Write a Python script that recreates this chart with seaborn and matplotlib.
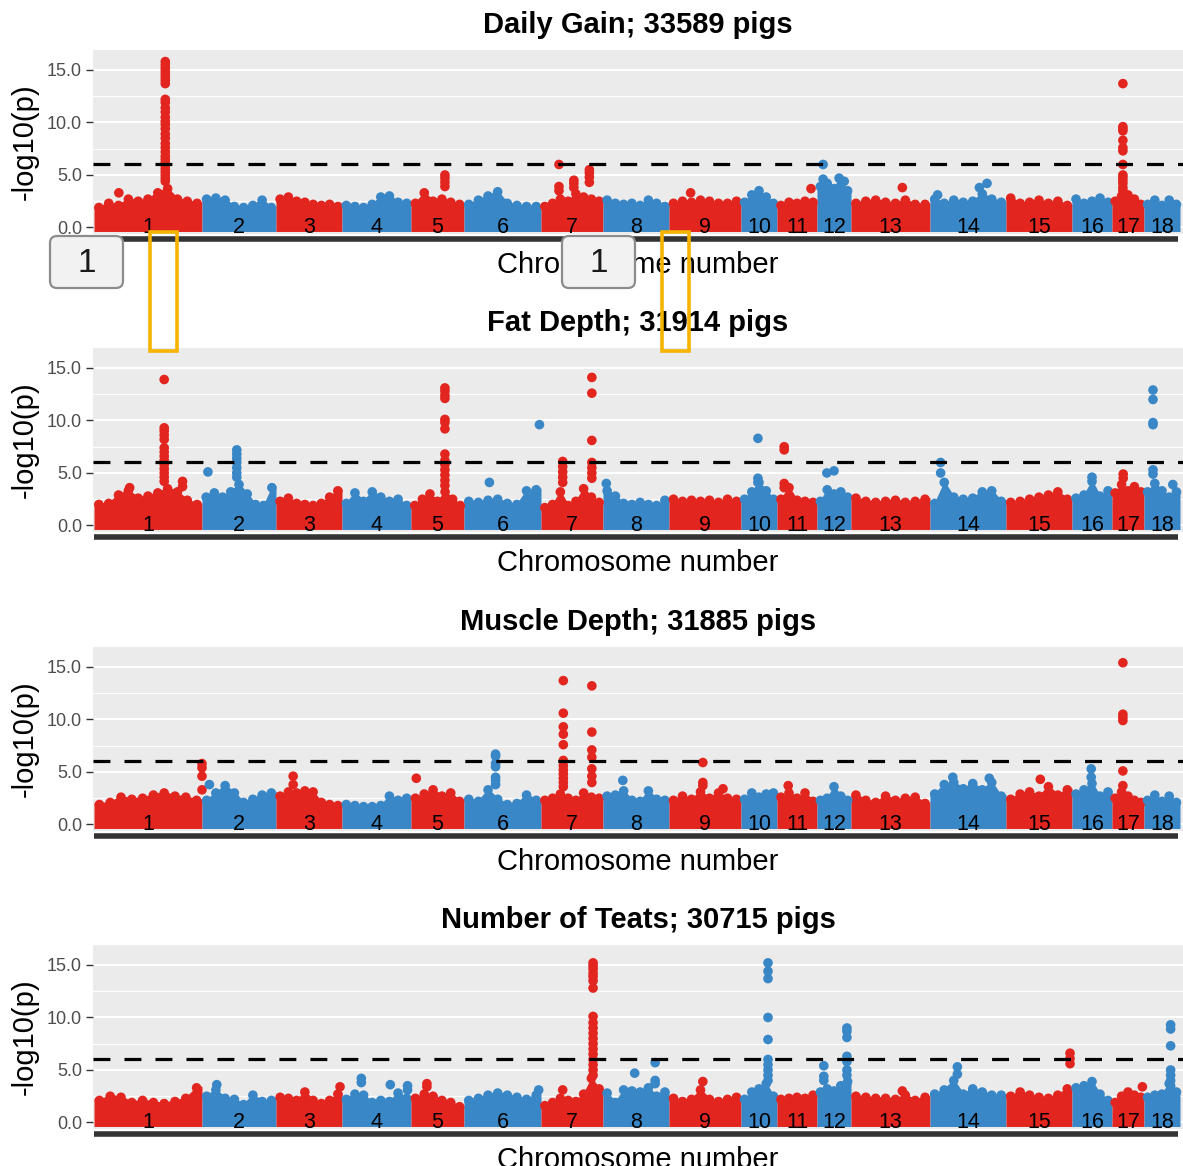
import numpy as np
import pandas as pd
import matplotlib
matplotlib.use("Agg")
import matplotlib.pyplot as plt
from matplotlib.patches import FancyBboxPatch, Rectangle
import seaborn as sns

W, H = 1183, 1166

chromosomes = [str(i) for i in range(1, 19)]
# width of each chromosome on the x scale (marker index)
chrom_sizes = [108, 74, 66, 69, 53, 77, 62, 66, 72, 36, 40, 34, 79, 76, 66, 40, 32, 36]

titles = ["Daily Gain; 33589 pigs", "Fat Depth; 31914 pigs",
          "Muscle Depth; 31885 pigs", "Number of Teats; 30715 pigs"]
threshold = 6.0

# top of the dense cloud of non significant SNPs, along each chromosome
dg_band = [[2.2, 2.6, 2.4, 3.0, 2.8, 3.0, 3.6, 4.0, 3.0, 2.8, 2.6],
           [3.0, 3.1, 2.9, 2.3, 2.2, 2.4, 2.9, 2.2],
           [3.0, 3.2, 2.8, 2.7, 2.5, 2.4, 2.5, 2.3],
           [2.4, 2.3, 2.2, 2.5, 3.2, 3.3, 2.7, 2.6],
           [2.6, 3.6, 2.8, 3.0, 2.7, 2.5],
           [2.5, 2.9, 3.3, 3.7, 2.6, 2.4, 2.3, 2.3],
           [2.3, 2.6, 3.0, 2.8, 3.5, 3.2, 3.0, 2.8],
           [2.9, 2.6, 2.5, 2.6, 2.4, 2.9, 2.6, 2.3],
           [2.6, 2.8, 2.7, 2.9, 2.8, 2.6, 2.6, 2.8],
           [2.7, 3.4, 3.8, 3.2, 2.6],
           [2.4, 2.7, 2.6, 2.8, 2.7],
           [4.2, 4.5, 4.0, 4.3, 3.8],
           [2.6, 2.8, 2.9, 2.7, 2.6, 2.9, 2.5, 2.5],
           [3.0, 2.6, 2.9, 2.7, 2.8, 3.5, 3.0, 2.7],
           [3.1, 2.6, 2.7, 2.9, 2.6, 2.8, 2.4],
           [3.0, 2.6, 2.8, 3.1, 2.7],
           [2.8, 3.3, 3.4, 3.0, 2.5],
           [2.5, 2.9, 2.4, 2.9, 2.5]]
# (chromosome, relative position on it, -log10(p) of the SNPs above the cloud)
dg_peaks = [(1, 0.23, [3.3]),
            (1, 0.66, [15.8, 15.5, 15.2, 14.9, 14.6, 14.3, 14.0, 13.7, 12.2, 11.9,
                       11.4, 11.0, 10.5, 10.1, 9.8, 9.4, 8.9, 8.5, 8.0, 7.6, 7.2,
                       6.8, 6.5, 6.2, 5.9, 5.6, 5.3, 5.0, 4.7, 4.4]),
            (5, 0.64, [5.0, 4.7, 4.3, 3.9]),
            (7, 0.29, [6.0, 3.9, 3.5]),
            (7, 0.53, [4.5, 4.2, 3.8]),
            (7, 0.78, [5.5, 5.2, 4.8, 4.3]),
            (9, 0.30, [3.3]),
            (11, 0.85, [3.7]),
            (12, 0.18, [6.0, 4.6]),
            (12, 0.65, [4.7]),
            (12, 0.80, [4.4]),
            (13, 0.65, [3.8]),
            (14, 0.10, [3.1]),
            (14, 0.65, [3.8]),
            (14, 0.75, [4.2]),
            (17, 0.34, [13.7, 9.6, 9.4, 9.2, 8.3, 7.6, 7.3, 6.0, 5.0, 4.8, 4.5,
                        4.2, 3.8, 3.5])]

fd_band = [[2.3, 2.4, 3.2, 3.6, 2.9, 3.1, 3.4, 3.8, 3.5, 2.7, 2.3],
           [3.0, 3.4, 3.0, 3.5, 4.2, 3.3, 2.3, 2.2, 3.9],
           [2.6, 2.9, 2.4, 2.3, 2.2, 2.4, 3.0, 3.6],
           [2.4, 3.4, 2.6, 3.5, 3.0, 2.6, 2.8, 2.2],
           [2.2, 2.8, 3.3, 2.6, 3.5, 2.8, 2.2],
           [2.6, 2.5, 2.7, 2.8, 2.4, 2.3, 3.6, 3.7],
           [2.0, 2.3, 3.5, 2.2, 2.6, 3.8, 3.0, 2.5],
           [3.6, 3.1, 2.4, 2.3, 2.5, 2.3, 2.2, 2.7],
           [2.8, 2.6, 2.7, 2.6, 2.7, 2.5, 2.8, 2.6],
           [2.8, 3.5, 4.4, 3.6, 2.8],
           [2.8, 3.9, 2.7, 2.6, 2.5],
           [2.6, 3.7, 3.3, 3.5, 3.0],
           [2.9, 2.6, 2.5, 2.6, 2.7, 2.5, 2.6, 2.8],
           [2.4, 4.4, 3.0, 2.8, 2.9, 3.5, 3.6, 2.6],
           [2.5, 2.6, 2.8, 3.0, 3.2, 3.5, 2.8],
           [2.9, 3.2, 4.5, 3.1, 3.6],
           [3.4, 4.2, 3.6, 4.0, 3.5],
           [3.5, 4.3, 3.6, 3.0, 3.5]]
fd_peaks = [(1, 0.33, [3.6]),
            (1, 0.65, [13.9, 9.3, 9.0, 8.6, 8.2, 7.4, 7.0, 6.6, 6.2, 5.8, 5.4,
                       5.0, 4.6, 4.2]),
            (1, 0.82, [4.2, 3.7]),
            (2, 0.08, [5.1]),
            (2, 0.47, [7.2, 6.8, 6.4, 6.0, 5.5, 5.0, 4.6]),
            (5, 0.64, [13.1, 12.8, 12.4, 12.1, 10.1, 9.8, 9.2, 6.8, 6.2, 5.8,
                       5.3, 4.8, 4.3, 3.8]),
            (6, 0.33, [4.1]),
            (6, 0.98, [9.6]),
            (7, 0.35, [6.1, 5.6, 5.1, 4.6, 4.1]),
            (7, 0.82, [14.1, 12.6, 8.1, 6.0, 5.5, 5.0, 4.5]),
            (8, 0.05, [4.0]),
            (10, 0.47, [8.3, 4.5, 4.1]),
            (11, 0.18, [7.5, 7.2, 4.0, 3.6]),
            (12, 0.29, [5.0]),
            (12, 0.50, [5.2]),
            (14, 0.14, [6.0, 5.0]),
            (16, 0.50, [4.6]),
            (17, 0.35, [4.9, 4.5]),
            (18, 0.25, [12.9, 12.0, 9.8, 9.6, 5.3, 4.9]),
            (18, 0.80, [3.9])]

md_band = [[2.2, 2.4, 2.9, 2.7, 2.8, 3.1, 3.3, 3.0, 2.9, 2.6],
           [2.6, 3.3, 4.0, 3.3, 2.4, 2.7, 3.1, 3.3],
           [3.0, 3.4, 3.3, 3.5, 3.4, 2.4, 2.2, 2.1],
           [2.2, 2.1, 2.0, 2.0, 2.1, 3.0, 2.6, 2.8],
           [2.8, 3.2, 3.6, 3.0, 3.3, 2.5],
           [2.7, 2.5, 3.6, 2.7, 2.2, 2.3, 3.1, 2.6],
           [2.6, 2.8, 3.2, 2.8, 2.6, 3.3, 2.9, 2.8],
           [3.0, 3.1, 3.5, 2.6, 2.5, 3.5, 2.7, 2.6],
           [2.6, 3.0, 2.7, 3.4, 2.8, 3.3, 2.8, 2.7],
           [2.7, 3.3, 2.9, 3.2, 3.3],
           [2.9, 3.3, 2.8, 3.3, 2.5],
           [2.6, 2.8, 3.9, 3.0, 2.6],
           [3.1, 2.6, 2.4, 3.0, 2.6, 2.8, 2.9, 2.3],
           [3.2, 4.1, 4.3, 3.7, 4.2, 3.6, 4.3, 3.0],
           [2.7, 3.2, 3.4, 3.0, 3.9, 3.1, 3.6],
           [3.2, 3.6, 4.2, 3.0, 3.4],
           [2.8, 3.4, 3.0, 2.6, 2.4],
           [2.6, 3.1, 2.5, 3.0, 2.4]]
md_peaks = [(1, 1.00, [5.8, 5.4, 4.6, 3.3]),
            (2, 0.10, [3.8]),
            (3, 0.26, [4.6, 3.8]),
            (5, 0.10, [4.4]),
            (6, 0.41, [6.7, 6.5, 5.8, 5.5, 4.5, 4.2, 3.8]),
            (7, 0.36, [13.7, 10.6, 9.3, 8.6, 7.6, 6.1, 5.6, 5.2, 4.8, 4.4, 4.0, 3.6]),
            (7, 0.82, [13.2, 8.8, 7.1, 6.4, 5.3, 4.6, 4.0]),
            (8, 0.30, [4.2]),
            (9, 0.47, [5.9, 4.0, 3.7]),
            (9, 0.75, [3.4]),
            (11, 0.28, [3.7]),
            (14, 0.30, [4.5]),
            (14, 0.78, [4.4]),
            (15, 0.52, [4.3]),
            (16, 0.48, [5.3, 4.5]),
            (17, 0.34, [15.4, 10.5, 10.2, 9.9, 5.1, 3.7])]

nt_band = [[2.4, 2.8, 2.7, 2.2, 2.4, 2.2, 2.1, 2.3, 2.6, 3.6],
           [2.8, 3.4, 2.6, 2.5, 2.0, 2.9, 2.3, 2.4],
           [2.7, 2.6, 2.4, 3.2, 2.4, 2.1, 2.4, 3.0],
           [2.5, 3.0, 2.9, 2.2, 2.4, 2.3, 3.1, 2.6],
           [2.6, 3.0, 2.8, 2.4, 2.2, 1.8],
           [2.4, 2.6, 2.9, 3.1, 2.9, 2.7, 2.5, 2.9],
           [1.9, 2.2, 2.6, 2.4, 2.3, 3.0, 4.5, 3.5],
           [3.1, 2.2, 3.4, 3.3, 3.2, 3.6, 2.8, 3.2],
           [2.6, 2.3, 2.5, 3.4, 2.5, 2.3, 2.5, 2.7],
           [2.5, 3.2, 3.5, 4.0, 2.8],
           [2.5, 2.6, 2.7, 2.6, 2.9],
           [3.2, 3.5, 3.3, 3.8, 4.2],
           [2.8, 2.7, 2.6, 2.6, 2.5, 2.9, 2.4, 2.7],
           [3.0, 3.4, 4.3, 3.0, 3.5, 3.2, 2.9, 2.9],
           [2.8, 3.2, 2.9, 2.7, 2.6, 2.9, 3.5],
           [3.6, 3.8, 4.2, 3.0, 2.4],
           [2.2, 2.8, 3.2, 2.9, 2.7],
           [2.7, 2.9, 3.0, 4.0, 3.2]]
nt_peaks = [(2, 0.20, [3.6]),
            (3, 0.97, [3.4]),
            (4, 0.28, [4.2, 3.8]),
            (4, 0.70, [3.6]),
            (4, 0.95, [3.5, 3.1]),
            (5, 0.30, [3.7, 3.4]),
            (6, 0.97, [3.1]),
            (7, 0.35, [3.1]),
            (7, 0.84, [15.2, 14.9, 14.6, 14.2, 13.9, 13.5, 12.8, 10.1, 9.5, 9.0,
                       8.5, 8.0, 7.5, 7.0, 6.5, 6.0, 5.5, 5.0, 4.5]),
            (8, 0.48, [4.7]),
            (8, 0.79, [5.7, 4.0, 3.7]),
            (9, 0.47, [3.9]),
            (10, 0.75, [15.2, 14.4, 13.7, 10.0, 7.9, 6.0, 5.5, 5.0, 4.5, 4.0]),
            (12, 0.20, [5.4, 4.4, 4.0]),
            (12, 0.88, [9.0, 8.7, 8.1, 6.3, 5.8, 5.0, 4.5]),
            (13, 0.65, [3.0]),
            (14, 0.36, [5.3, 4.6]),
            (15, 0.97, [6.6, 6.1, 5.6]),
            (17, 0.95, [3.4]),
            (18, 0.74, [9.3, 8.9, 7.3, 5.0, 4.5, 4.0, 3.5])]

bands = [dg_band, fd_band, md_band, nt_band]
peaks = [dg_peaks, fd_peaks, md_peaks, nt_peaks]

RED = "#E2261F"
BLUE = "#3987C6"

sns.set_theme(style="darkgrid", rc={"axes.facecolor": "#EBEBEB"})
plt.rcParams["font.family"] = ["Liberation Sans", "DejaVu Sans"]

starts = np.concatenate([[0], np.cumsum(chrom_sizes)[:-1]])
centers = starts + np.array(chrom_sizes) / 2

fig = plt.figure(figsize=(W / 100, H / 100), dpi=100)
fig.patch.set_facecolor("white")

panel_tops = [50, 348, 647, 945]
panel_h = 184
left_px, right_px = 93, 1183

for k in range(4):
    top = panel_tops[k]
    ax = fig.add_axes([left_px / W, 1 - (top + panel_h) / H,
                       (right_px - left_px) / W, panel_h / H])

    # dense cloud of SNPs under each chromosome
    rows = []
    for i, heights in enumerate(bands[k]):
        s, w = starts[i], chrom_sizes[i]
        n = len(heights)
        xs = s + w * (np.arange(n) + 0.5) / n
        col = RED if i % 2 == 0 else BLUE
        px = np.concatenate([[s], xs, [s + w]])
        py = np.concatenate([[heights[0]], heights, [heights[-1]]]) - 0.15
        ax.fill_between(px, -0.38, py, color=col, lw=0, zorder=2)
        for x, h in zip(xs, heights):
            rows.append((x, h - 0.3, i % 2))
    for chrom, rel, vals in peaks[k]:
        i = chrom - 1
        x = starts[i] + rel * chrom_sizes[i]
        for v in vals:
            rows.append((x, v, i % 2))
    df = pd.DataFrame(rows, columns=["pos", "logp", "parity"])
    sns.scatterplot(data=df, x="pos", y="logp", hue="parity",
                    palette={0: RED, 1: BLUE}, s=48, linewidth=0,
                    legend=False, ax=ax, zorder=3)

    ax.axhline(threshold, color="black", lw=2.3, ls=(0, (5.3, 4.4)), zorder=4)

    for c, lab in zip(centers, chromosomes):
        ax.text(c, 0.0, lab, ha="center", va="center", fontsize=15.5,
                color="black", zorder=5)

    ax.set_xlim(-1, right_px - 94)
    ax.set_ylim(-0.62, 16.9)
    ax.set_xticks([])
    ax.set_yticks([0, 5, 10, 15])
    ax.set_yticklabels(["0.0", "5.0", "10.0", "15.0"])
    ax.set_yticks([2.5, 7.5, 12.5], minor=True)
    ax.grid(which="major", axis="y", color="white", lw=1.5)
    ax.grid(which="minor", axis="y", color="white", lw=0.8)
    ax.grid(which="major", axis="x", visible=False)
    ax.tick_params(axis="y", which="major", left=True, length=5, width=1,
                   color="#333333", labelsize=13, labelcolor="#4D4D4D", pad=3)
    ax.tick_params(axis="y", which="minor", left=False, length=0)

    for sp in ["top", "right", "left"]:
        ax.spines[sp].set_visible(False)
    ax.spines["bottom"].set_visible(True)
    ax.spines["bottom"].set_color("#333333")
    ax.spines["bottom"].set_linewidth(4)
    ax.spines["bottom"].set_position(("outward", 3.5))
    ax.spines["bottom"].set_bounds(0, 1084)
    ax.spines["bottom"].set_capstyle("butt")

    ax.set_title(titles[k], fontsize=21, fontweight="bold", pad=12,
                 color="black")
    ax.set_xlabel("Chromosome number", fontsize=21, color="black")
    ax.xaxis.set_label_coords(0.5, -0.09)
    ax.set_ylabel("-log10(p)", fontsize=21, color="black")
    ax.yaxis.set_label_coords(-0.05, 0.5)

# annotation overlays present on the reference screenshot
def fig_xy(x, y):
    return x / W, 1 - y / H

for bx in [50, 562]:
    x0, y0 = fig_xy(bx, 288)
    box = FancyBboxPatch((x0, y0), 73 / W, 52 / H, transform=fig.transFigure,
                         boxstyle="round,pad=0,rounding_size=0.006",
                         facecolor="#F2F2F2", edgecolor="#8C8C8C", lw=1.6,
                         zorder=10)
    fig.add_artist(box)
    tx, ty = fig_xy(bx + 37, 263)
    fig.text(tx, ty, "1", ha="center", va="center", fontsize=24,
             color="#1A1A1A", zorder=11)

for rx in [150, 662]:
    x0, y0 = fig_xy(rx, 351)
    rect = Rectangle((x0, y0), 27 / W, 119 / H, transform=fig.transFigure,
                     fill=False, edgecolor="#F5B400", lw=2.6, zorder=12)
    fig.add_artist(rect)

fig.savefig("out.png", dpi=100)
